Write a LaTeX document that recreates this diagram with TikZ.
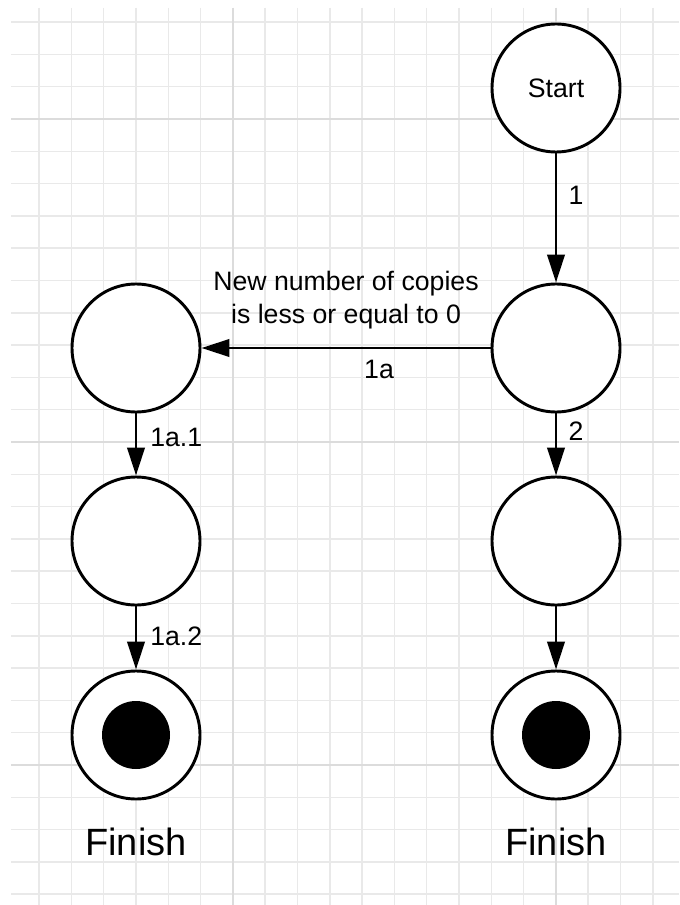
\documentclass[tikz,border=0pt]{standalone}
\usepackage{fontspec}
\setmainfont{Liberation Sans}
\usepackage{xcolor}
\usetikzlibrary{arrows.meta,positioning}
\definecolor{gridthin}{RGB}{233,233,233}
\definecolor{gridthick}{RGB}{220,220,220}

\begin{document}
\begin{tikzpicture}[x=0.75pt,y=-0.75pt,
	state/.style={circle,draw,line width=2.2pt,minimum size=96pt,inner sep=0pt,fill=white,font=\fontsize{20}{24}\selectfont},
	blob/.style={circle,fill=black,minimum size=51pt,inner sep=0pt},
	flow/.style={line width=2.2pt,-{Triangle[length=21pt,width=13pt]}},
	lbl/.style={font=\fontsize{20}{24.75}\selectfont,inner sep=0pt},
	finlbl/.style={font=\fontsize{28.5}{34}\selectfont,inner sep=0pt}]
	
	\useasboundingbox (0,0) rectangle (679,905);
	\fill[white] (0,0) rectangle (679,905);
	
	% grid
	\foreach \k in {-3,...,16}
		\draw[gridthin,line width=1.1pt] ({136+32.3*\k},8) -- ({136+32.3*\k},905);
	\foreach \j in {-3,...,24}
		\draw[gridthin,line width=1.1pt] (11,{119+32.3*\j}) -- (679,{119+32.3*\j});
	\foreach \k in {3,13}
		\draw[gridthick,line width=2pt] ({136+32.3*\k},8) -- ({136+32.3*\k},905);
	\foreach \j in {0,10,20}
		\draw[gridthick,line width=2pt] (11,{119+32.3*\j}) -- (679,{119+32.3*\j});
	
	% states
	\node[state] (start) at (556,88) {Start};
	\node[state] (n1) at (556,348) {};
	\node[state] (n1a) at (136,348) {};
	\node[state] (n1a1) at (136,541) {};
	\node[state] (n2) at (556,541) {};
	\node[state] (fin1a) at (136,735) {};
	\node[state] (fin2) at (556,735) {};
	\node[blob] (dot1a) at (fin1a) {};
	\node[blob] (dot2) at (fin2) {};
	
	\node[finlbl] (txt1a) at (136,842) {Finish};
	\node[finlbl] (txt2) at (556,842) {Finish};
	
	% transitions
	\draw[flow] (start) -- (n1);
	\draw[flow] (n1) -- (n1a);
	\draw[flow] (n1a) -- (n1a1);
	\draw[flow] (n1a1) -- (fin1a);
	\draw[flow] (n1) -- (n2);
	\draw[flow] (n2) -- (fin2);
	
	\node[lbl] (l1) at (576,195) {1};
	\node[lbl,align=center] (cond) at (346,300) {New number of copies\\is less or equal to 0};
	\node[lbl] (l1a) at (379,369) {1a};
	\node[lbl,anchor=west] (l1a1) at (150,437) {1a.1};
	\node[lbl,anchor=west] (l1a2) at (150,636) {1a.2};
	\node[lbl] (l2) at (576,431) {2};
\end{tikzpicture}
\end{document}
